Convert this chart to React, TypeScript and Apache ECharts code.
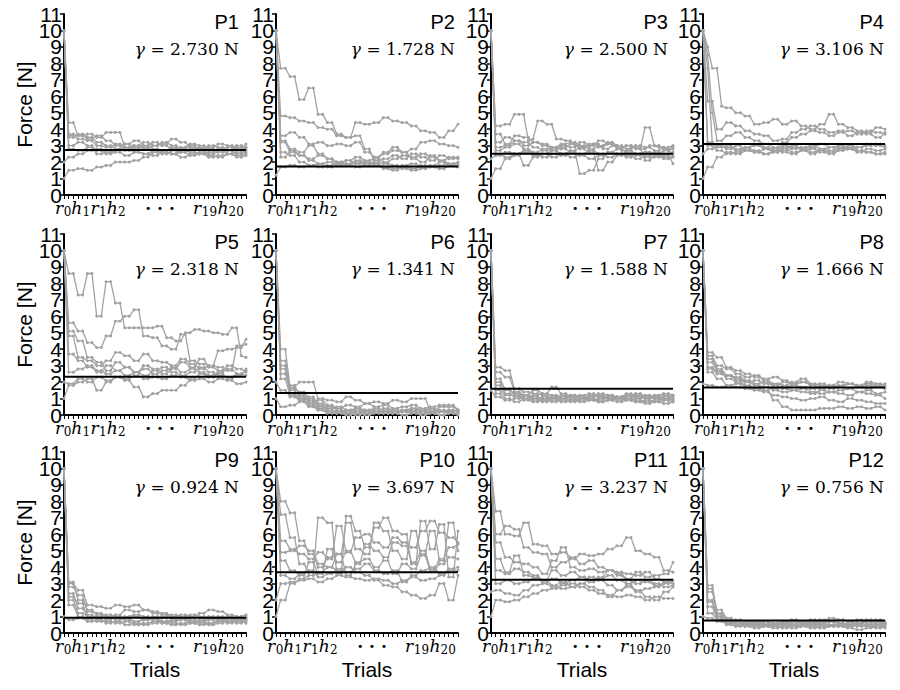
import React, { useEffect, useRef } from "react";
import * as echarts from "echarts";

// ---------- data ----------
const panelNames = ["P1", "P2", "P3", "P4", "P5", "P6", "P7", "P8", "P9", "P10", "P11", "P12"];
const gammaValues = [2.73, 1.728, 2.5, 3.106, 2.318, 1.341, 1.588, 1.666, 0.924, 3.697, 3.237, 0.756];
const xMin = 0;
const xMax = 39; // r0 ... h20 (40 trials)
const yMin = 0;
const yMax = 11;
const startTokens = [["r", "0"], ["h", "1"], ["r", "1"], ["h", "2"]];
const endTokens = [["r", "19"], ["h", "20"]];
const dotsText = "· · ·";

const p1 = [
  [10, 3.7, 3.7, 3.6, 3.6, 3.7, 3.7, 3.5, 3.5, 3.8, 3.8, 3.8, 3.8, 2.9, 2.9, 2.8, 2.8, 3.0, 3.0, 2.8, 2.8, 2.7, 2.7, 2.9, 2.9, 2.8, 2.8, 2.7, 2.7, 2.9, 2.9, 2.7, 2.7, 2.8, 2.8, 2.9, 2.9, 3.0, 3.0, 2.9],
  [10, 4.4, 4.4, 3.6, 3.6, 3.4, 3.4, 3.6, 3.6, 3.3, 3.3, 3.0, 3.0, 3.1, 3.1, 2.9, 2.9, 3.2, 3.2, 3.0, 3.0, 3.1, 3.1, 3.4, 3.4, 3.2, 3.2, 2.9, 2.9, 2.8, 2.8, 2.9, 2.9, 3.1, 3.1, 3.0, 3.0, 2.8, 2.8, 3.1],
  [10, 3.6, 3.6, 3.4, 3.4, 3.3, 3.3, 3.0, 3.0, 2.9, 2.9, 3.1, 3.1, 2.8, 2.8, 2.6, 2.6, 2.5, 2.5, 2.7, 2.7, 2.6, 2.6, 2.5, 2.5, 2.7, 2.7, 2.6, 2.6, 2.5, 2.5, 2.6, 2.6, 2.7, 2.7, 2.5, 2.5, 2.6, 2.6, 2.7],
  [10, 2.8, 2.8, 2.7, 2.7, 2.9, 2.9, 2.5, 2.5, 2.6, 2.6, 2.8, 2.8, 2.7, 2.7, 3.0, 3.0, 2.9, 2.9, 2.6, 2.6, 2.5, 2.5, 2.7, 2.7, 2.6, 2.6, 2.8, 2.8, 2.7, 2.7, 2.5, 2.5, 2.6, 2.6, 2.7, 2.7, 2.5, 2.5, 2.6],
  [1.0, 1.5, 1.5, 1.6, 1.6, 1.5, 1.5, 1.7, 1.7, 1.8, 1.8, 2.0, 2.0, 2.0, 2.0, 2.1, 2.1, 2.3, 2.3, 2.6, 2.6, 2.6, 2.6, 2.5, 2.5, 2.6, 2.6, 2.4, 2.4, 2.5, 2.5, 2.3, 2.3, 2.4, 2.4, 2.5, 2.5, 2.3, 2.3, 2.4],
  [2.0, 2.3, 2.3, 2.5, 2.5, 2.7, 2.7, 2.8, 2.8, 2.6, 2.6, 2.7, 2.7, 2.9, 2.9, 3.0, 3.0, 2.8, 2.8, 3.0, 3.0, 3.2, 3.2, 3.0, 3.0, 2.8, 2.8, 3.0, 3.0, 2.8, 2.8, 3.0, 3.0, 2.9, 2.9, 2.7, 2.7, 2.9, 2.9, 2.8],
  [10, 3.5, 3.5, 3.7, 3.7, 3.5, 3.5, 3.2, 3.2, 3.0, 3.0, 2.8, 2.8, 3.1, 3.1, 3.3, 3.3, 3.0, 3.0, 3.2, 3.2, 3.0, 3.0, 2.8, 2.8, 2.9, 2.9, 3.1, 3.1, 3.0, 3.0, 2.8, 2.8, 2.7, 2.7, 2.9, 2.9, 2.7, 2.7, 2.9],
  [10, 3.0, 3.0, 3.2, 3.2, 3.0, 3.0, 2.7, 2.7, 2.5, 2.5, 2.6, 2.6, 2.4, 2.4, 2.6, 2.6, 2.5, 2.5, 2.4, 2.4, 2.6, 2.6, 2.5, 2.5, 2.3, 2.3, 2.5, 2.5, 2.6, 2.6, 2.4, 2.4, 2.3, 2.3, 2.5, 2.5, 2.4, 2.4, 2.5],
];
const p2 = [
  [10, 7.7, 7.7, 7.2, 7.2, 5.8, 5.8, 6.5, 6.5, 4.9, 4.9, 4.4, 4.4, 3.7, 3.7, 3.5, 3.5, 3.6, 3.6, 2.8, 2.8, 2.1, 2.1, 2.2, 2.2, 2.4, 2.4, 2.2, 2.2, 2.5, 2.5, 2.3, 2.3, 2.1, 2.1, 2.4, 2.4, 2.2, 2.2, 2.3],
  [10, 4.8, 4.8, 4.7, 4.7, 4.5, 4.5, 4.4, 4.4, 4.1, 4.1, 4.0, 4.0, 3.6, 3.6, 3.5, 3.5, 4.4, 4.4, 4.3, 4.3, 4.4, 4.4, 4.7, 4.7, 4.5, 4.5, 4.4, 4.4, 4.2, 4.2, 3.9, 3.9, 3.8, 3.8, 3.5, 3.5, 3.9, 3.9, 4.3],
  [10, 3.6, 3.6, 3.8, 3.8, 3.5, 3.5, 3.1, 3.1, 3.2, 3.2, 3.0, 3.0, 3.1, 3.1, 3.0, 3.0, 3.2, 3.2, 2.6, 2.6, 2.3, 2.3, 2.5, 2.5, 2.7, 2.7, 2.6, 2.6, 2.8, 2.8, 3.2, 3.2, 3.3, 3.3, 3.1, 3.1, 3.0, 3.0, 2.9],
  [10, 3.3, 3.3, 2.8, 2.8, 2.6, 2.6, 3.0, 3.0, 2.5, 2.5, 2.2, 2.2, 2.0, 2.0, 2.1, 2.1, 1.9, 1.9, 2.0, 2.0, 2.3, 2.3, 2.6, 2.6, 2.9, 2.9, 2.6, 2.6, 2.2, 2.2, 2.0, 2.0, 2.4, 2.4, 2.1, 2.1, 1.9, 1.9, 2.0],
  [10, 3.2, 3.2, 2.6, 2.6, 2.4, 2.4, 2.1, 2.1, 1.9, 1.9, 2.0, 2.0, 1.8, 1.8, 1.9, 1.9, 2.0, 2.0, 1.8, 1.8, 1.9, 1.9, 1.7, 1.7, 1.6, 1.6, 1.8, 1.8, 1.9, 1.9, 1.7, 1.7, 1.8, 1.8, 2.0, 2.0, 1.8, 1.8, 1.9],
  [10, 2.6, 2.6, 2.4, 2.4, 2.0, 2.0, 1.8, 1.8, 1.7, 1.7, 1.8, 1.8, 2.0, 2.0, 1.8, 1.8, 2.1, 2.1, 2.0, 2.0, 1.8, 1.8, 1.6, 1.6, 1.5, 1.5, 1.7, 1.7, 1.6, 1.6, 1.8, 1.8, 1.7, 1.7, 1.6, 1.6, 1.8, 1.8, 1.7],
  [1.2, 1.7, 1.7, 1.8, 1.8, 1.7, 1.7, 1.8, 1.8, 1.9, 1.9, 1.7, 1.7, 1.8, 1.8, 1.9, 1.9, 1.7, 1.7, 1.9, 1.9, 2.0, 2.0, 1.9, 1.9, 1.8, 1.8, 1.6, 1.6, 1.5, 1.5, 1.6, 1.6, 1.7, 1.7, 1.8, 1.8, 1.9, 1.9, 1.8],
  [10, 2.3, 2.3, 2.7, 2.7, 2.4, 2.4, 2.2, 2.2, 2.4, 2.4, 2.2, 2.2, 1.9, 1.9, 2.1, 2.1, 2.3, 2.3, 2.1, 2.1, 2.2, 2.2, 2.0, 2.0, 2.2, 2.2, 2.4, 2.4, 2.3, 2.3, 2.5, 2.5, 2.3, 2.3, 2.1, 2.1, 2.3, 2.3, 2.2],
];
const p3 = [
  [10, 4.2, 4.2, 4.3, 4.3, 4.9, 4.9, 4.9, 3.3, 3.4, 4.5, 4.5, 4.3, 4.3, 3.4, 3.4, 3.3, 3.3, 3.0, 3.0, 2.9, 2.9, 3.1, 3.1, 2.8, 2.8, 3.0, 3.0, 2.7, 2.7, 2.9, 2.9, 2.8, 2.8, 3.0, 3.0, 2.9, 2.9, 2.7, 2.8],
  [10, 3.7, 3.7, 3.1, 3.1, 3.6, 3.6, 3.5, 3.5, 3.2, 3.2, 3.0, 3.0, 2.8, 2.8, 3.0, 3.0, 2.9, 2.9, 3.2, 3.2, 3.0, 3.0, 3.3, 3.3, 3.1, 3.1, 2.9, 2.9, 3.0, 3.0, 2.8, 2.8, 4.1, 4.1, 3.0, 3.0, 2.8, 2.8, 2.9],
  [10, 2.9, 2.9, 3.0, 3.0, 3.3, 3.3, 3.2, 3.2, 2.9, 2.9, 2.7, 2.7, 2.9, 2.9, 2.8, 2.8, 2.6, 2.6, 1.3, 1.3, 1.5, 1.5, 2.2, 2.2, 2.6, 2.6, 2.8, 2.8, 2.6, 2.6, 2.4, 2.4, 2.6, 2.6, 2.5, 2.5, 2.7, 2.7, 2.5],
  [10, 2.7, 2.7, 2.9, 2.9, 3.1, 3.1, 2.8, 2.8, 2.6, 2.6, 2.8, 2.8, 2.7, 2.7, 2.9, 2.9, 3.1, 3.1, 2.8, 2.8, 2.6, 2.6, 1.5, 1.5, 2.0, 2.0, 2.4, 2.4, 2.7, 2.7, 2.5, 2.5, 2.3, 2.3, 2.6, 2.6, 2.4, 2.4, 2.6],
  [1.0, 1.6, 1.6, 2.2, 2.2, 2.4, 2.4, 2.6, 2.6, 2.4, 2.4, 2.5, 2.5, 2.7, 2.7, 2.5, 2.5, 2.3, 2.3, 2.5, 2.5, 2.7, 2.7, 2.5, 2.5, 2.3, 2.3, 2.5, 2.5, 2.4, 2.4, 2.2, 2.2, 2.4, 2.4, 2.3, 2.3, 2.5, 2.5, 1.9],
  [2.2, 2.4, 2.4, 2.6, 2.6, 2.5, 2.5, 1.8, 1.8, 2.3, 2.3, 2.5, 2.5, 2.3, 2.3, 2.5, 2.5, 2.7, 2.7, 2.9, 2.9, 3.1, 3.1, 2.9, 2.9, 3.1, 3.1, 2.8, 2.8, 3.0, 3.0, 2.9, 2.9, 2.1, 2.1, 2.4, 2.4, 2.2, 2.2, 2.3],
  [10, 3.2, 3.2, 3.5, 3.5, 3.3, 3.3, 3.0, 3.0, 3.2, 3.2, 3.1, 3.1, 2.9, 2.9, 3.1, 3.1, 3.2, 3.2, 3.0, 3.0, 2.8, 2.8, 3.0, 3.0, 3.2, 3.2, 3.0, 3.0, 2.8, 2.8, 3.0, 3.0, 2.9, 2.9, 2.7, 2.7, 2.9, 2.9, 3.0],
  [10, 2.5, 2.5, 2.3, 2.3, 2.5, 2.5, 2.7, 2.7, 2.5, 2.5, 2.3, 2.3, 2.5, 2.5, 2.4, 2.4, 2.6, 2.6, 2.4, 2.4, 2.2, 2.2, 2.4, 2.4, 2.6, 2.6, 2.5, 2.5, 2.3, 2.3, 2.5, 2.5, 2.6, 2.6, 2.4, 2.4, 2.3, 2.3, 2.4],
];
const p4 = [
  [10, 9.0, 7.7, 7.7, 5.4, 5.3, 5.3, 5.0, 5.0, 4.8, 4.8, 4.3, 4.3, 4.4, 4.4, 4.6, 4.6, 4.3, 4.3, 4.5, 4.5, 4.2, 4.2, 4.0, 4.0, 4.3, 4.3, 4.9, 4.9, 4.3, 4.3, 4.1, 4.1, 3.9, 3.9, 3.8, 3.8, 4.1, 4.1, 4.0],
  [10, 5.7, 5.7, 4.0, 4.0, 4.4, 4.4, 4.2, 4.2, 3.9, 3.9, 3.7, 3.7, 3.6, 3.6, 3.3, 3.3, 3.4, 3.4, 3.8, 3.8, 4.0, 4.0, 4.2, 4.2, 4.0, 4.0, 3.8, 3.8, 3.9, 3.9, 3.6, 3.6, 3.8, 3.8, 3.7, 3.7, 3.5, 3.5, 3.8],
  [10, 8.5, 5.0, 3.3, 3.3, 3.6, 3.6, 3.8, 3.8, 3.5, 3.5, 3.3, 3.3, 3.1, 3.1, 2.9, 2.9, 3.2, 3.2, 3.5, 3.5, 3.7, 3.7, 3.9, 3.9, 3.8, 3.8, 3.6, 3.6, 3.8, 3.8, 3.9, 3.9, 3.7, 3.7, 3.9, 3.9, 3.8, 3.8, 3.7],
  [10, 3.2, 3.2, 3.0, 3.0, 2.8, 2.8, 3.0, 3.0, 2.7, 2.7, 2.6, 2.6, 2.8, 2.8, 2.6, 2.6, 2.7, 2.7, 2.9, 2.9, 2.8, 2.8, 2.6, 2.6, 2.8, 2.8, 2.7, 2.7, 2.9, 2.9, 2.8, 2.8, 2.6, 2.6, 2.8, 2.8, 2.7, 2.7, 2.8],
  [1.0, 1.7, 1.7, 2.3, 2.3, 2.6, 2.6, 2.5, 2.5, 2.7, 2.7, 2.6, 2.6, 2.5, 2.5, 2.7, 2.7, 2.6, 2.6, 2.5, 2.5, 2.7, 2.7, 2.8, 2.8, 2.6, 2.6, 2.5, 2.5, 2.7, 2.7, 2.8, 2.8, 2.7, 2.7, 2.6, 2.6, 2.5, 2.5, 2.6],
  [2.5, 2.8, 2.8, 3.0, 3.0, 2.9, 2.9, 2.7, 2.7, 2.9, 2.9, 3.0, 3.0, 2.8, 2.8, 2.7, 2.7, 2.9, 2.9, 3.0, 3.0, 2.8, 2.8, 2.9, 2.9, 3.1, 3.1, 2.9, 2.9, 2.8, 2.8, 3.0, 3.0, 2.9, 2.9, 3.1, 3.1, 3.0, 3.0, 2.9],
  [10, 3.0, 3.0, 2.7, 2.7, 2.5, 2.5, 2.6, 2.6, 2.8, 2.8, 2.7, 2.7, 2.5, 2.5, 2.6, 2.6, 2.8, 2.8, 2.6, 2.6, 2.7, 2.7, 2.5, 2.5, 2.7, 2.7, 2.6, 2.6, 2.8, 2.8, 2.9, 2.9, 2.7, 2.7, 2.6, 2.6, 2.5, 2.5, 2.5],
  [10, 7.7, 3.1, 2.9, 2.9, 3.0, 3.0, 2.8, 2.8, 2.9, 2.9, 3.1, 3.1, 2.9, 2.9, 2.8, 2.8, 3.0, 3.0, 2.8, 2.8, 2.9, 2.9, 3.0, 3.0, 2.8, 2.8, 2.9, 2.9, 3.0, 3.0, 2.8, 2.8, 2.9, 2.9, 3.0, 3.0, 3.1, 3.1, 3.0],
];
const p5 = [
  [10, 8.6, 8.6, 7.3, 7.3, 8.6, 8.6, 6.0, 6.0, 8.1, 8.1, 6.8, 6.8, 5.3, 5.3, 5.3, 5.3, 5.3, 5.3, 5.3, 5.4, 5.4, 4.7, 4.7, 4.5, 4.5, 5.0, 5.0, 5.2, 5.2, 5.1, 5.1, 5.0, 5.0, 4.9, 4.9, 5.3, 5.3, 3.6, 3.5],
  [10, 5.6, 5.6, 5.1, 5.1, 4.4, 4.4, 4.1, 4.1, 4.8, 4.8, 5.7, 5.7, 6.0, 6.0, 6.4, 6.4, 4.8, 4.8, 4.7, 4.7, 4.2, 4.2, 4.0, 4.0, 4.9, 4.9, 3.3, 3.3, 3.1, 3.1, 3.0, 3.0, 3.9, 3.9, 4.0, 4.0, 4.1, 4.1, 4.6],
  [10, 4.8, 4.8, 3.5, 3.5, 3.3, 3.3, 3.0, 3.0, 3.3, 3.3, 3.8, 3.8, 3.6, 3.6, 3.3, 3.3, 3.7, 3.7, 3.3, 3.3, 3.2, 3.2, 3.0, 3.0, 3.4, 3.4, 3.1, 3.1, 2.8, 2.8, 3.0, 3.0, 2.9, 2.9, 2.7, 2.7, 4.2, 4.2, 4.3],
  [10, 5.1, 5.1, 4.5, 4.5, 3.5, 3.5, 3.2, 3.2, 2.7, 2.7, 3.2, 3.2, 2.9, 2.9, 2.6, 2.6, 3.0, 3.0, 2.8, 2.8, 2.5, 2.5, 2.8, 2.8, 3.2, 3.2, 2.9, 2.9, 3.4, 3.4, 2.9, 2.9, 2.7, 2.7, 3.0, 3.0, 2.8, 2.8, 2.6],
  [10, 3.7, 3.7, 3.3, 3.3, 2.9, 2.9, 2.6, 2.6, 3.0, 3.0, 2.7, 2.7, 2.9, 2.9, 2.6, 2.6, 2.8, 2.8, 2.5, 2.5, 2.7, 2.7, 2.9, 2.9, 2.6, 2.6, 2.8, 2.8, 2.6, 2.6, 2.4, 2.4, 2.6, 2.6, 2.8, 2.8, 2.5, 2.5, 2.7],
  [10, 2.6, 2.6, 2.8, 2.8, 3.0, 3.0, 2.7, 2.7, 2.5, 2.5, 2.7, 2.7, 2.4, 2.4, 2.6, 2.6, 2.4, 2.4, 2.7, 2.7, 2.9, 2.9, 2.6, 2.6, 2.4, 2.4, 2.6, 2.6, 2.9, 2.9, 2.6, 2.6, 2.4, 2.4, 2.3, 2.3, 2.5, 2.5, 2.4],
  [1.0, 1.8, 1.8, 2.0, 2.0, 2.2, 2.2, 1.5, 1.5, 2.0, 2.0, 2.3, 2.3, 2.1, 2.1, 1.7, 1.7, 1.1, 1.1, 1.3, 1.3, 1.5, 1.5, 1.5, 1.5, 1.8, 1.8, 2.2, 2.2, 2.5, 2.5, 2.3, 2.3, 2.5, 2.5, 2.2, 2.2, 2.4, 2.4, 2.8],
  [2.0, 1.9, 1.9, 2.2, 2.2, 2.0, 2.0, 2.3, 2.3, 2.1, 2.1, 2.3, 2.3, 2.2, 2.2, 2.4, 2.4, 2.2, 2.2, 2.3, 2.3, 2.2, 2.2, 2.4, 2.4, 2.3, 2.3, 2.1, 2.1, 2.2, 2.2, 2.0, 2.0, 2.2, 2.2, 2.1, 2.1, 1.9, 1.9, 2.0],
];
const p6 = [
  [10, 4.0, 4.0, 1.7, 1.7, 2.0, 2.0, 2.0, 2.0, 1.0, 1.0, 0.9, 0.9, 0.8, 0.8, 1.1, 1.1, 0.9, 0.9, 0.7, 0.7, 0.8, 0.8, 0.7, 0.7, 0.9, 0.9, 0.8, 0.8, 1.0, 1.0, 1.0, 1.0, 0.3, 0.3, 0.2, 0.2, 0.3, 0.3, 0.2],
  [10, 3.0, 3.0, 1.5, 1.5, 1.1, 1.1, 0.8, 0.8, 0.9, 0.9, 0.6, 0.6, 0.4, 0.4, 0.6, 0.6, 0.5, 0.5, 0.7, 0.7, 0.5, 0.5, 0.6, 0.6, 0.4, 0.4, 0.5, 0.5, 0.6, 0.6, 0.4, 0.4, 0.5, 0.5, 0.6, 0.6, 0.6, 0.6, 0.3],
  [10, 2.8, 2.8, 1.3, 1.3, 1.0, 1.0, 0.6, 0.6, 0.3, 0.3, 0.2, 0.2, 0.1, 0.1, 0.2, 0.2, 0.1, 0.1, 0.2, 0.2, 0.3, 0.3, 0.2, 0.2, 0.1, 0.1, 0.2, 0.2, 0.3, 0.3, 0.2, 0.2, 0.1, 0.1, 0.2, 0.2, 0.1, 0.1, 0.1],
  [10, 2.5, 2.5, 1.8, 1.8, 1.2, 1.2, 0.9, 0.9, 0.5, 0.5, 0.3, 0.3, 0.2, 0.2, 0.3, 0.3, 0.4, 0.4, 0.3, 0.3, 0.2, 0.2, 0.4, 0.4, 0.3, 0.3, 0.2, 0.2, 0.4, 0.4, 0.3, 0.3, 0.2, 0.2, 0.3, 0.3, 0.2, 0.2, 0.3],
  [2.0, 1.5, 1.5, 1.1, 1.1, 0.9, 0.9, 0.7, 0.7, 0.4, 0.4, 0.2, 0.2, 0.1, 0.1, 0.0, 0.0, 0.1, 0.1, 0.0, 0.0, 0.1, 0.1, 0.2, 0.2, 0.1, 0.1, 0.0, 0.0, 0.1, 0.1, 0.0, 0.0, 0.1, 0.1, 0.0, 0.0, 0.1, 0.1, 0.0],
  [1.0, 0.5, 0.5, 0.6, 0.6, 0.8, 0.8, 0.5, 0.5, 0.3, 0.3, 0.1, 0.1, 0.2, 0.2, 0.1, 0.1, 0.0, 0.0, 0.1, 0.1, 0.2, 0.2, 0.1, 0.1, 0.3, 0.3, 0.2, 0.2, 0.1, 0.1, 0.2, 0.2, 0.1, 0.1, 0.0, 0.0, 0.1, 0.1, 0.1],
  [10, 3.3, 3.3, 1.6, 1.6, 1.4, 1.4, 1.0, 1.0, 0.7, 0.7, 0.5, 0.5, 0.3, 0.3, 0.2, 0.2, 0.3, 0.3, 0.1, 0.1, 0.2, 0.2, 0.1, 0.1, 0.2, 0.2, 0.3, 0.3, 0.2, 0.2, 0.1, 0.1, 0.2, 0.2, 0.5, 0.5, 0.5, 0.5, 0.3],
  [10, 2.2, 2.2, 1.2, 1.2, 0.9, 0.9, 1.1, 1.1, 0.6, 0.6, 0.4, 0.4, 0.5, 0.5, 0.3, 0.3, 0.2, 0.2, 0.3, 0.3, 0.4, 0.4, 0.3, 0.3, 0.2, 0.2, 0.3, 0.3, 0.4, 0.4, 0.3, 0.3, 0.4, 0.4, 0.2, 0.2, 0.3, 0.3, 0.2],
];
const p7 = [
  [10, 2.9, 2.9, 2.7, 2.7, 1.6, 1.6, 1.4, 1.4, 1.3, 1.3, 1.2, 1.2, 1.1, 1.1, 1.2, 1.2, 1.0, 1.0, 1.1, 1.1, 1.2, 1.2, 1.1, 1.1, 1.0, 1.0, 1.1, 1.1, 1.2, 1.2, 1.1, 1.1, 1.0, 1.0, 1.1, 1.1, 1.2, 1.2, 1.1],
  [10, 2.6, 2.6, 2.3, 2.3, 1.4, 1.4, 1.2, 1.2, 1.5, 1.5, 1.3, 1.3, 1.7, 1.7, 1.3, 1.3, 1.1, 1.1, 1.0, 1.0, 1.1, 1.1, 1.3, 1.3, 1.2, 1.2, 1.0, 1.0, 1.1, 1.1, 1.3, 1.3, 1.1, 1.1, 1.0, 1.0, 0.9, 0.9, 1.0],
  [10, 2.2, 2.2, 1.5, 1.5, 1.3, 1.3, 1.1, 1.1, 1.0, 1.0, 0.9, 0.9, 1.0, 1.0, 0.8, 0.8, 0.9, 0.9, 1.0, 1.0, 0.9, 0.9, 1.0, 1.0, 1.1, 1.1, 0.9, 0.9, 1.0, 1.0, 0.9, 0.9, 0.8, 0.8, 0.9, 0.9, 1.0, 1.0, 0.9],
  [10, 1.8, 1.8, 1.3, 1.3, 1.1, 1.1, 0.9, 0.9, 0.8, 0.8, 1.0, 1.0, 0.8, 0.8, 0.9, 0.9, 0.8, 0.8, 0.9, 0.9, 1.0, 1.0, 0.8, 0.8, 0.9, 0.9, 0.8, 0.8, 0.9, 0.9, 0.8, 0.8, 0.7, 0.7, 0.8, 0.8, 0.9, 0.9, 0.8],
  [10, 1.5, 1.5, 1.2, 1.2, 1.4, 1.4, 1.2, 1.2, 1.0, 1.0, 1.1, 1.1, 1.0, 1.0, 1.1, 1.1, 1.2, 1.2, 1.0, 1.0, 1.1, 1.1, 1.2, 1.2, 1.0, 1.0, 1.1, 1.1, 1.0, 1.0, 1.1, 1.1, 1.2, 1.2, 1.1, 1.1, 1.0, 1.0, 1.2],
  [1.5, 1.1, 1.1, 0.9, 0.9, 1.0, 1.0, 1.2, 1.2, 1.1, 1.1, 0.9, 0.9, 1.1, 1.1, 1.0, 1.0, 1.2, 1.2, 1.1, 1.1, 1.0, 1.0, 0.9, 0.9, 1.1, 1.1, 1.0, 1.0, 1.2, 1.2, 1.0, 1.0, 1.1, 1.1, 1.0, 1.0, 1.1, 1.1, 1.0],
  [10, 1.3, 1.3, 1.0, 1.0, 0.8, 0.8, 1.0, 1.0, 0.9, 0.9, 0.8, 0.8, 0.9, 0.9, 1.0, 1.0, 0.9, 0.9, 0.8, 0.8, 0.9, 0.9, 0.8, 0.8, 0.9, 0.9, 1.0, 1.0, 0.9, 0.9, 0.8, 0.8, 0.9, 0.9, 0.8, 0.8, 0.7, 0.7, 0.8],
  [10, 2.0, 2.0, 1.6, 1.6, 1.2, 1.2, 1.0, 1.0, 1.2, 1.2, 1.3, 1.3, 1.2, 1.2, 1.0, 1.0, 1.1, 1.1, 1.2, 1.2, 1.3, 1.3, 1.1, 1.1, 1.2, 1.2, 1.1, 1.1, 1.3, 1.3, 1.2, 1.2, 1.1, 1.1, 1.2, 1.2, 1.3, 1.3, 1.2],
];
const p8 = [
  [10, 3.8, 3.8, 3.5, 3.5, 2.9, 2.9, 2.7, 2.7, 2.5, 2.5, 2.3, 2.3, 2.2, 2.2, 2.3, 2.3, 2.1, 2.1, 1.9, 1.9, 2.0, 2.0, 1.8, 1.8, 1.9, 1.9, 1.7, 1.7, 1.8, 1.8, 1.9, 1.9, 1.8, 1.8, 1.9, 1.9, 1.8, 1.8, 1.9],
  [10, 3.6, 3.6, 3.0, 3.0, 2.8, 2.8, 2.5, 2.5, 2.3, 2.3, 2.4, 2.4, 2.1, 2.1, 1.9, 1.9, 1.8, 1.8, 2.0, 2.0, 2.2, 2.2, 1.9, 1.9, 1.8, 1.8, 1.6, 1.6, 1.7, 1.7, 1.9, 1.9, 1.7, 1.7, 1.6, 1.6, 1.8, 1.8, 1.7],
  [10, 3.2, 3.2, 2.7, 2.7, 2.4, 2.4, 2.2, 2.2, 2.0, 2.0, 1.8, 1.8, 1.7, 1.7, 1.5, 1.5, 1.4, 1.4, 1.5, 1.5, 1.4, 1.4, 1.3, 1.3, 1.5, 1.5, 1.4, 1.4, 1.3, 1.3, 1.2, 1.2, 1.4, 1.4, 1.3, 1.3, 1.2, 1.2, 1.0],
  [10, 2.9, 2.9, 2.6, 2.6, 2.2, 2.2, 2.0, 2.0, 1.8, 1.8, 1.6, 1.6, 1.5, 1.5, 0.9, 0.9, 0.5, 0.5, 0.3, 0.3, 0.3, 0.3, 0.3, 0.3, 0.4, 0.4, 0.4, 0.4, 0.5, 0.5, 0.4, 0.4, 0.5, 0.5, 0.4, 0.4, 0.5, 0.5, 0.3],
  [10, 2.6, 2.6, 2.2, 2.2, 1.8, 1.8, 1.7, 1.7, 1.6, 1.6, 1.5, 1.5, 1.4, 1.4, 1.2, 1.2, 1.1, 1.1, 1.0, 1.0, 0.9, 0.9, 1.0, 1.0, 1.1, 1.1, 0.9, 0.9, 0.8, 0.8, 1.0, 1.0, 0.9, 0.9, 0.8, 0.8, 0.7, 0.7, 0.7],
  [1.9, 1.8, 1.8, 1.7, 1.7, 1.8, 1.8, 1.9, 1.9, 1.7, 1.7, 1.6, 1.6, 1.7, 1.7, 1.6, 1.6, 1.7, 1.7, 1.8, 1.8, 1.7, 1.7, 1.6, 1.6, 1.7, 1.7, 1.8, 1.8, 1.7, 1.7, 1.6, 1.6, 1.7, 1.7, 1.8, 1.8, 1.7, 1.7, 1.6],
  [10, 3.4, 3.4, 2.8, 2.8, 2.4, 2.4, 2.3, 2.3, 2.1, 2.1, 1.9, 1.9, 2.0, 2.0, 1.8, 1.8, 1.6, 1.6, 1.5, 1.5, 1.6, 1.6, 1.4, 1.4, 1.3, 1.3, 1.4, 1.4, 1.5, 1.5, 1.6, 1.6, 1.4, 1.4, 1.5, 1.5, 1.3, 1.3, 1.4],
  [10, 2.8, 2.8, 2.5, 2.5, 2.4, 2.4, 2.1, 2.1, 2.0, 2.0, 2.1, 2.1, 1.9, 1.9, 1.8, 1.8, 2.0, 2.0, 1.9, 1.9, 2.0, 2.0, 1.8, 1.8, 1.6, 1.6, 1.8, 1.8, 2.0, 2.0, 1.9, 1.9, 1.8, 1.8, 2.0, 2.0, 1.9, 1.9, 1.8],
];
const p9 = [
  [10, 3.0, 3.0, 2.6, 2.6, 1.7, 1.7, 1.6, 1.6, 1.5, 1.5, 1.7, 1.7, 1.6, 1.6, 1.7, 1.7, 1.4, 1.4, 1.2, 1.2, 1.1, 1.1, 1.0, 1.0, 1.1, 1.1, 1.0, 1.0, 1.2, 1.2, 1.4, 1.4, 1.3, 1.3, 1.1, 1.1, 1.0, 1.0, 0.9],
  [10, 2.8, 2.8, 2.3, 2.3, 1.3, 1.3, 1.2, 1.2, 1.0, 1.0, 1.1, 1.1, 1.4, 1.4, 1.3, 1.3, 1.4, 1.4, 1.3, 1.3, 1.2, 1.2, 1.0, 1.0, 0.9, 0.9, 1.0, 1.0, 0.9, 0.9, 1.0, 1.0, 0.9, 0.9, 1.0, 1.0, 0.8, 0.8, 1.0],
  [10, 2.4, 2.4, 1.5, 1.5, 1.1, 1.1, 0.9, 0.9, 1.0, 1.0, 0.8, 0.8, 0.9, 0.9, 1.0, 1.0, 0.8, 0.8, 0.9, 0.9, 0.7, 0.7, 0.8, 0.8, 0.9, 0.9, 0.7, 0.7, 0.8, 0.8, 0.9, 0.9, 0.8, 0.8, 0.7, 0.7, 0.8, 0.8, 0.9],
  [10, 2.0, 2.0, 1.2, 1.2, 1.0, 1.0, 0.8, 0.8, 0.7, 0.7, 0.6, 0.6, 0.7, 0.7, 0.5, 0.5, 0.6, 0.6, 0.7, 0.7, 0.6, 0.6, 0.5, 0.5, 0.6, 0.6, 0.7, 0.7, 0.6, 0.6, 0.5, 0.5, 0.6, 0.6, 0.7, 0.7, 0.6, 0.6, 0.7],
  [10, 1.7, 1.7, 1.0, 1.0, 0.8, 0.8, 0.7, 0.7, 0.8, 0.8, 1.0, 1.0, 0.9, 0.9, 0.7, 0.7, 0.8, 0.8, 1.0, 1.0, 0.9, 0.9, 1.1, 1.1, 1.0, 1.0, 0.8, 0.8, 0.7, 0.7, 0.8, 0.8, 0.9, 0.9, 0.8, 0.8, 0.9, 0.9, 0.8],
  [1.0, 0.8, 0.8, 0.9, 0.9, 0.7, 0.7, 0.8, 0.8, 0.6, 0.6, 0.7, 0.7, 0.5, 0.5, 0.6, 0.6, 0.5, 0.5, 0.6, 0.6, 0.7, 0.7, 0.6, 0.6, 0.5, 0.5, 0.6, 0.6, 0.5, 0.5, 0.6, 0.6, 0.7, 0.7, 0.6, 0.6, 0.7, 0.7, 0.6],
  [10, 3.1, 3.1, 2.0, 2.0, 1.4, 1.4, 1.1, 1.1, 0.9, 0.9, 1.0, 1.0, 0.8, 0.8, 0.7, 0.7, 0.9, 0.9, 0.8, 0.8, 0.6, 0.6, 0.7, 0.7, 0.8, 0.8, 0.6, 0.6, 0.7, 0.7, 0.6, 0.6, 0.8, 0.8, 0.9, 0.9, 0.7, 0.7, 0.8],
  [10, 2.2, 2.2, 1.8, 1.8, 0.9, 0.9, 1.0, 1.0, 1.1, 1.1, 0.9, 0.9, 1.0, 1.0, 1.1, 1.1, 1.0, 1.0, 0.9, 0.9, 1.0, 1.0, 0.9, 0.9, 1.0, 1.0, 1.1, 1.1, 1.0, 1.0, 0.9, 0.9, 1.0, 1.0, 0.9, 0.9, 1.0, 1.0, 1.1],
];
const p10 = [
  [10, 8.0, 8.0, 7.3, 7.3, 5.6, 5.6, 4.8, 4.8, 4.0, 4.0, 4.6, 4.6, 4.8, 4.8, 3.5, 3.5, 4.2, 4.2, 5.4, 5.4, 5.0, 5.0, 4.6, 4.6, 5.5, 5.5, 5.3, 5.3, 4.3, 4.3, 5.0, 5.0, 3.9, 3.9, 4.5, 4.5, 5.2, 5.2, 5.4],
  [10, 7.2, 7.2, 5.8, 5.8, 4.2, 4.2, 3.7, 3.7, 7.0, 7.0, 6.7, 6.7, 3.6, 3.6, 7.1, 7.1, 6.2, 6.2, 5.2, 5.2, 6.4, 6.4, 7.0, 7.0, 6.2, 6.2, 6.0, 6.0, 4.2, 4.2, 6.8, 6.8, 5.1, 5.1, 6.6, 6.6, 3.4, 3.4, 6.2],
  [10, 5.6, 5.6, 5.1, 5.1, 4.8, 4.8, 4.5, 4.5, 4.9, 4.9, 4.5, 4.5, 6.5, 6.5, 4.9, 4.9, 5.8, 5.8, 6.0, 6.0, 5.5, 5.5, 5.2, 5.2, 5.8, 5.8, 5.5, 5.5, 5.2, 5.2, 6.2, 6.2, 6.8, 6.8, 6.1, 6.1, 5.8, 5.8, 5.5],
  [10, 4.9, 4.9, 5.0, 5.0, 5.3, 5.3, 5.0, 5.0, 4.2, 4.2, 4.0, 4.0, 4.8, 4.8, 6.7, 6.7, 5.1, 5.1, 4.8, 4.8, 6.7, 6.7, 6.2, 6.2, 5.0, 5.0, 4.5, 4.5, 6.2, 6.2, 4.8, 4.8, 6.2, 6.2, 4.4, 4.4, 6.7, 6.7, 5.0],
  [10, 4.4, 4.4, 3.8, 3.8, 3.5, 3.5, 4.3, 4.3, 3.6, 3.6, 5.1, 5.1, 4.3, 4.3, 5.0, 5.0, 4.3, 4.3, 4.5, 4.5, 4.0, 4.0, 4.4, 4.4, 3.6, 3.6, 4.2, 4.2, 3.9, 3.9, 4.7, 4.7, 3.8, 3.8, 4.2, 4.2, 4.6, 4.6, 4.5],
  [1.0, 2.0, 2.0, 3.0, 3.0, 3.3, 3.3, 3.5, 3.5, 3.7, 3.7, 4.0, 4.0, 3.8, 3.8, 4.0, 4.0, 3.7, 3.7, 3.5, 3.5, 3.2, 3.2, 2.9, 2.9, 2.8, 2.8, 2.5, 2.5, 2.3, 2.3, 2.1, 2.1, 2.3, 2.3, 3.0, 3.0, 2.0, 2.0, 3.5],
  [2.0, 3.0, 3.0, 3.1, 3.1, 3.2, 3.2, 3.3, 3.3, 3.1, 3.1, 3.3, 3.3, 3.5, 3.5, 3.4, 3.4, 3.3, 3.3, 3.2, 3.2, 3.3, 3.3, 3.2, 3.2, 3.0, 3.0, 3.2, 3.2, 3.4, 3.4, 3.2, 3.2, 3.3, 3.3, 3.5, 3.5, 3.8, 3.8, 3.8],
  [10, 3.5, 3.5, 3.3, 3.3, 3.6, 3.6, 3.8, 3.8, 3.4, 3.4, 3.6, 3.6, 3.9, 3.9, 3.7, 3.7, 3.9, 3.9, 4.2, 4.2, 3.8, 3.8, 3.6, 3.6, 3.8, 3.8, 3.1, 3.1, 3.5, 3.5, 3.8, 3.8, 4.0, 4.0, 3.6, 3.6, 3.9, 3.9, 4.0],
];
const p11 = [
  [10, 7.4, 7.4, 6.0, 6.0, 5.9, 5.9, 6.7, 6.7, 5.4, 5.4, 5.3, 5.3, 4.8, 4.8, 4.9, 4.9, 4.6, 4.6, 4.2, 4.2, 4.4, 4.4, 4.0, 4.0, 3.8, 3.8, 3.7, 3.7, 3.6, 3.6, 3.5, 3.5, 3.7, 3.7, 3.3, 3.3, 3.1, 3.1, 3.0],
  [10, 6.0, 6.0, 6.5, 6.5, 6.3, 6.3, 5.2, 5.2, 4.9, 4.9, 4.8, 4.8, 4.0, 4.0, 4.3, 4.3, 4.5, 4.5, 4.8, 4.8, 4.7, 4.7, 4.8, 4.8, 5.1, 5.1, 5.3, 5.3, 5.8, 5.8, 5.0, 5.0, 4.8, 4.8, 4.6, 4.6, 3.8, 3.8, 3.7],
  [10, 5.5, 5.5, 4.6, 4.6, 4.3, 4.3, 4.2, 4.2, 4.0, 4.0, 3.6, 3.6, 4.4, 4.4, 5.2, 5.2, 4.0, 4.0, 3.8, 3.8, 3.9, 3.9, 3.7, 3.7, 3.8, 3.8, 3.6, 3.6, 3.3, 3.3, 3.7, 3.7, 3.4, 3.4, 3.5, 3.5, 3.6, 3.6, 4.3],
  [10, 4.5, 4.5, 3.7, 3.7, 4.7, 4.7, 3.5, 3.5, 3.4, 3.4, 3.2, 3.2, 3.8, 3.8, 3.5, 3.5, 3.7, 3.7, 3.4, 3.4, 3.2, 3.2, 3.4, 3.4, 3.8, 3.8, 3.5, 3.5, 3.2, 3.2, 3.0, 3.0, 3.2, 3.2, 3.0, 3.0, 2.8, 2.8, 2.9],
  [10, 3.8, 3.8, 3.6, 3.6, 3.9, 3.9, 3.7, 3.7, 3.5, 3.5, 3.2, 3.2, 2.9, 2.9, 3.1, 3.1, 2.8, 2.8, 3.0, 3.0, 3.4, 3.4, 3.2, 3.2, 2.9, 2.9, 2.6, 2.6, 2.8, 2.8, 2.5, 2.5, 2.7, 2.7, 2.8, 2.8, 3.1, 3.1, 3.0],
  [1.0, 2.0, 2.0, 1.9, 1.9, 2.0, 2.0, 2.2, 2.2, 2.4, 2.4, 2.6, 2.6, 2.7, 2.7, 2.9, 2.9, 3.0, 3.0, 2.8, 2.8, 2.6, 2.6, 2.4, 2.4, 2.3, 2.3, 2.2, 2.2, 2.3, 2.3, 2.2, 2.2, 2.0, 2.0, 2.2, 2.2, 2.1, 2.1, 2.1],
  [2.5, 2.6, 2.6, 2.4, 2.4, 2.3, 2.3, 2.6, 2.6, 2.9, 2.9, 3.0, 3.0, 2.8, 2.8, 2.7, 2.7, 2.8, 2.8, 3.0, 3.0, 2.8, 2.8, 2.6, 2.6, 2.2, 2.2, 2.6, 2.6, 2.9, 2.9, 2.6, 2.6, 2.2, 2.2, 2.0, 2.0, 2.5, 2.5, 2.8],
  [10, 3.0, 3.0, 3.2, 3.2, 3.0, 3.0, 3.1, 3.1, 3.3, 3.3, 3.1, 3.1, 3.3, 3.3, 3.0, 3.0, 3.2, 3.2, 3.4, 3.4, 3.1, 3.1, 3.3, 3.3, 3.5, 3.5, 3.2, 3.2, 3.0, 3.0, 3.2, 3.2, 3.1, 3.1, 2.9, 2.9, 3.0, 3.0, 3.2],
];
const p12 = [
  [10, 2.9, 2.9, 1.2, 1.2, 0.8, 0.8, 0.6, 0.6, 0.5, 0.5, 0.6, 0.6, 0.5, 0.5, 0.6, 0.6, 0.5, 0.5, 0.6, 0.6, 0.7, 0.7, 0.6, 0.6, 0.7, 0.7, 0.9, 0.9, 0.8, 0.8, 0.7, 0.7, 0.6, 0.6, 0.8, 0.8, 0.7, 0.7, 0.6],
  [10, 2.5, 2.5, 1.4, 1.4, 0.9, 0.9, 0.7, 0.7, 0.6, 0.6, 0.5, 0.5, 0.4, 0.4, 0.5, 0.5, 0.6, 0.6, 0.5, 0.5, 0.4, 0.4, 0.5, 0.5, 0.6, 0.6, 0.5, 0.5, 0.4, 0.4, 0.5, 0.5, 0.6, 0.6, 0.5, 0.5, 0.4, 0.4, 0.5],
  [10, 2.0, 2.0, 1.0, 1.0, 0.7, 0.7, 0.5, 0.5, 0.4, 0.4, 0.3, 0.3, 0.4, 0.4, 0.3, 0.3, 0.4, 0.4, 0.3, 0.3, 0.4, 0.4, 0.3, 0.3, 0.4, 0.4, 0.5, 0.5, 0.4, 0.4, 0.3, 0.3, 0.2, 0.2, 0.3, 0.3, 0.4, 0.4, 0.3],
  [10, 1.6, 1.6, 0.9, 0.9, 0.6, 0.6, 0.5, 0.5, 0.6, 0.6, 0.7, 0.7, 0.6, 0.6, 0.5, 0.5, 0.6, 0.6, 0.7, 0.7, 0.6, 0.6, 0.7, 0.7, 0.8, 0.8, 0.7, 0.7, 0.6, 0.6, 0.5, 0.5, 0.6, 0.6, 0.7, 0.7, 0.8, 0.8, 0.7],
  [10, 1.2, 1.2, 0.8, 0.8, 0.7, 0.7, 0.8, 0.8, 0.7, 0.7, 0.6, 0.6, 0.7, 0.7, 0.6, 0.6, 0.7, 0.7, 0.8, 0.8, 0.7, 0.7, 0.8, 0.8, 0.6, 0.6, 0.7, 0.7, 0.8, 0.8, 0.7, 0.7, 0.8, 0.8, 0.6, 0.6, 0.7, 0.7, 0.6],
  [1.0, 0.9, 0.9, 0.7, 0.7, 0.6, 0.6, 0.5, 0.5, 0.4, 0.4, 0.5, 0.5, 0.4, 0.4, 0.5, 0.5, 0.4, 0.4, 0.5, 0.5, 0.6, 0.6, 0.5, 0.5, 0.4, 0.4, 0.5, 0.5, 0.6, 0.6, 0.5, 0.5, 0.4, 0.4, 0.5, 0.5, 0.6, 0.6, 0.5],
  [10, 2.7, 2.7, 1.1, 1.1, 0.9, 0.9, 0.6, 0.6, 0.5, 0.5, 0.4, 0.4, 0.5, 0.5, 0.4, 0.4, 0.3, 0.3, 0.4, 0.4, 0.5, 0.5, 0.4, 0.4, 0.3, 0.3, 0.4, 0.4, 0.5, 0.5, 0.4, 0.4, 0.5, 0.5, 0.4, 0.4, 0.3, 0.3, 0.4],
  [10, 1.9, 1.9, 0.8, 0.8, 0.5, 0.5, 0.4, 0.4, 0.5, 0.5, 0.6, 0.6, 0.5, 0.5, 0.6, 0.6, 0.5, 0.5, 0.4, 0.4, 0.5, 0.5, 0.6, 0.6, 0.5, 0.5, 0.4, 0.4, 0.5, 0.5, 0.6, 0.6, 0.5, 0.5, 0.4, 0.4, 0.5, 0.5, 0.6],
];
const panelLines = [p1, p2, p3, p4, p5, p6, p7, p8, p9, p10, p11, p12];

// ---------- layout ----------
const gridLefts = [64, 276, 491, 703];
const gridTops = [14, 234, 452];
const gridW = 182;
const gridH = 181;
const textRights = [239, 455, 668, 884];
// x offsets (relative to grid left) of [letter, subscript] for each trial token
const startOffsets = [[-9, -0.2], [7.3, 18.6], [26.4, 34.9], [42.8, 54]];
const endOffsets = [[129, 137.8], [153.4, 164.6]];
const SANS = "'Liberation Sans', Arial, Helvetica, sans-serif";
const SERIF = "'DejaVu Serif', 'Liberation Serif', serif";
const GRAY = "#a2a2a2";

export default function App() {
  const ref = useRef<HTMLDivElement>(null);
  useEffect(() => {
    if (!ref.current) return;
    const chart = echarts.init(ref.current, undefined, { renderer: "svg" });
    const grids: any[] = [];
    const xAxes: any[] = [];
    const yAxes: any[] = [];
    const series: any[] = [];
    const graphics: any[] = [];

    const pushToken = (letter: string, sub: string, xl: number, xs: number, bottom: number) => {
      graphics.push({
        type: "text", x: xl, y: bottom + 13, z: 10,
        style: { text: letter, fontFamily: SERIF, fontStyle: "italic", fontSize: 17, fill: "#000", align: "left", verticalAlign: "middle" },
      });
      graphics.push({
        type: "text", x: xs, y: bottom + 17, z: 10,
        style: { text: sub, fontFamily: SERIF, fontSize: 12, fill: "#000", align: "left", verticalAlign: "middle" },
      });
    };

    const yLabelStyle = { margin: 2, fontSize: 21, color: "#000", fontFamily: SANS, showMinLabel: true, showMaxLabel: true };

    panelNames.forEach((name, k) => {
      const col = k % 4;
      const row = Math.floor(k / 4);
      const left = gridLefts[col];
      const top = gridTops[row];
      const bottom = top + gridH;
      grids.push({ left, top, width: gridW, height: gridH, containLabel: false });
      xAxes.push({
        gridIndex: k, type: "value", min: xMin, max: xMax, interval: 1,
        axisLine: { show: true, onZero: false, lineStyle: { color: "#000", width: 2 } },
        axisTick: { show: true, length: 4, lineStyle: { color: "#000", width: 1 } },
        axisLabel: { show: false }, splitLine: { show: false },
      });
      // even tick labels (with axis line and ticks)
      yAxes.push({
        gridIndex: k, type: "value", position: "left", min: yMin, max: yMax, interval: 1,
        axisLine: { show: true, onZero: false, lineStyle: { color: "#000", width: 2 } },
        axisTick: { show: true, length: 4, lineStyle: { color: "#000", width: 1.5 } },
        axisLabel: { ...yLabelStyle, formatter: (v: number) => (v % 2 === 0 ? String(v) : "") },
        splitLine: { show: false },
      });
      // odd tick labels (same scale, same position)
      yAxes.push({
        gridIndex: k, type: "value", position: "left", offset: 0, min: yMin, max: yMax, interval: 1,
        axisLine: { show: false }, axisTick: { show: false },
        axisLabel: { ...yLabelStyle, formatter: (v: number) => (v % 2 === 1 ? String(v) : "") },
        splitLine: { show: false },
      });
      panelLines[k].forEach((line) => {
        series.push({
          type: "line", xAxisIndex: k, yAxisIndex: 2 * k,
          data: line.map((v, i) => [i, v]),
          symbol: "circle", symbolSize: 3, showSymbol: true,
          lineStyle: { color: GRAY, width: 1.3 }, itemStyle: { color: GRAY },
          silent: true, z: 2,
        });
      });
      series.push({
        type: "line", xAxisIndex: k, yAxisIndex: 2 * k,
        data: [[xMin, gammaValues[k]], [xMax, gammaValues[k]]],
        symbol: "none", lineStyle: { color: "#000", width: 2 }, silent: true, z: 3,
      });
      const right = textRights[col];
      graphics.push({
        type: "text", x: right, y: top + 8, z: 10,
        style: { text: name, fontFamily: SANS, fontSize: 20, fill: "#000", align: "right", verticalAlign: "middle" },
      });
      graphics.push({
        type: "text", x: right, y: top + 35, z: 10,
        style: {
          text: `{g|γ} = ${gammaValues[k].toFixed(3)} N`,
          fontFamily: SERIF, fontSize: 17, fill: "#000", align: "right", verticalAlign: "middle",
          rich: { g: { fontFamily: SERIF, fontStyle: "italic", fontSize: 17, fill: "#000" } },
        },
      });
      startTokens.forEach(([a, b], t) => pushToken(a, b, left + startOffsets[t][0], left + startOffsets[t][1], bottom));
      endTokens.forEach(([a, b], t) => pushToken(a, b, left + endOffsets[t][0], left + endOffsets[t][1], bottom));
      graphics.push({
        type: "text", x: left + 96, y: bottom + 13, z: 10,
        style: { text: dotsText, fontFamily: SERIF, fontSize: 17, fontWeight: "bold", fill: "#000", align: "center", verticalAlign: "middle" },
      });
      if (col === 0) {
        graphics.push({
          type: "text", x: 24, y: top + gridH / 2, rotation: Math.PI / 2, z: 10,
          style: { text: "Force [N]", fontFamily: SANS, fontSize: 21, fill: "#000", align: "center", verticalAlign: "middle" },
        });
      }
      if (row === 2) {
        graphics.push({
          type: "text", x: left + gridW / 2, y: 669, z: 10,
          style: { text: "Trials", fontFamily: SANS, fontSize: 21, fill: "#000", align: "center", verticalAlign: "middle" },
        });
      }
    });
    chart.setOption({
      animation: false,
      backgroundColor: "#fff",
      grid: grids, xAxis: xAxes, yAxis: yAxes, series, graphic: graphics,
    });
    return () => chart.dispose();
  }, []);
  return <div ref={ref} style={{ position: "absolute", left: 0, top: 0, width: 900, height: 690 }} />;
}
